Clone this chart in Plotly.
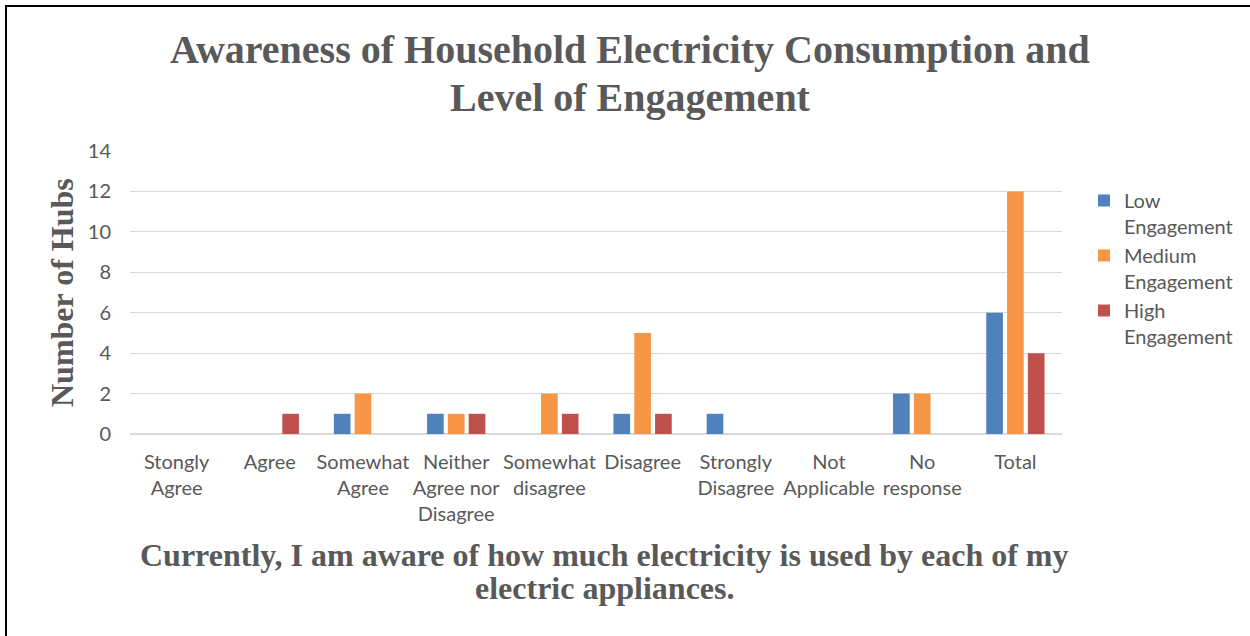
import plotly.graph_objects as go

categories = ["Stongly<br>Agree", "Agree", "Somewhat<br>Agree", "Neither<br>Agree nor<br>Disagree",
              "Somewhat<br>disagree", "Disagree", "Strongly<br>Disagree", "Not<br>Applicable",
              "No<br>response", "Total"]
low = [0, 0, 1, 1, 0, 1, 1, 0, 2, 6]
medium = [0, 0, 2, 1, 2, 5, 0, 0, 2, 12]
high = [0, 1, 0, 1, 1, 1, 0, 0, 0, 4]

series_names = ["Low<br>Engagement", "Medium<br>Engagement", "High<br>Engagement"]
colors = ["#4F81BD", "#F79646", "#C0504D"]

title_lines = ["Awareness of Household Electricity Consumption and", "Level of Engagement"]
xtitle_lines = ["Currently, I am aware of how much electricity is used by each of my", "electric appliances."]
ytitle = "Number of Hubs"

W, H = 1250, 636
L, R, T, B = 130, 1062, 151, 434
pw, ph = R - L, B - T

def px(x):
    return (x - L) / pw

def py(y):
    return (B - y) / ph

fig = go.Figure()
for name, vals, c in zip(series_names, [low, medium, high], colors):
    fig.add_trace(go.Bar(x=categories, y=vals, name=name, marker_color=c, marker_line_width=0))

gray = "#595959"
serif = "Liberation Serif, Times New Roman, serif"
fig.update_layout(
    width=W, height=H,
    margin=dict(l=L, r=W - R, t=T, b=H - B),
    plot_bgcolor="white", paper_bgcolor="white",
    barmode="group", bargap=0.33, bargroupgap=0.2,
    font=dict(family="Lato, Open Sans, sans-serif", color=gray, size=20),
    legend=dict(x=px(1084), y=py(181), xanchor="left", yanchor="top", valign="top",
                font=dict(size=20, color=gray), tracegroupgap=0, itemwidth=30),
    showlegend=True,
)
fig.update_xaxes(showline=True, linecolor="#D9D9D9", linewidth=1, ticks="", tickfont=dict(size=20, color=gray),
                 showgrid=False, ticklabelstandoff=10)
fig.update_yaxes(range=[0, 14], dtick=2, showgrid=True, gridcolor="#D9D9D9", gridwidth=1,
                 zeroline=True, zerolinecolor="#D9D9D9", showline=False, ticks="outside",
                 ticklen=14, tickcolor="white", tickfont=dict(size=20, color=gray))

for txt, yc in zip(title_lines, [50, 97]):
    fig.add_annotation(text=txt, xref="paper", yref="paper", x=px(630), y=py(yc),
                       xanchor="center", yanchor="middle", showarrow=False,
                       font=dict(family=serif, size=40, color=gray, weight="bold"))
fig.add_annotation(text=ytitle, textangle=-90, xref="paper", yref="paper",
                   x=px(62), y=py(293), xanchor="center", yanchor="middle", showarrow=False,
                   font=dict(family=serif, size=32, color=gray, weight="bold"))
for txt, yc in zip(xtitle_lines, [555, 588]):
    fig.add_annotation(text=txt, xref="paper", yref="paper", x=px(604), y=py(yc),
                       xanchor="center", yanchor="middle", showarrow=False,
                       font=dict(family=serif, size=32, color=gray, weight="bold"))
fig.add_shape(type="rect", xref="paper", yref="paper", x0=px(6), x1=px(1400), y0=py(800), y1=py(6),
              line=dict(color="black", width=2), fillcolor="rgba(0,0,0,0)", layer="above")

fig.write_html("out.html")
